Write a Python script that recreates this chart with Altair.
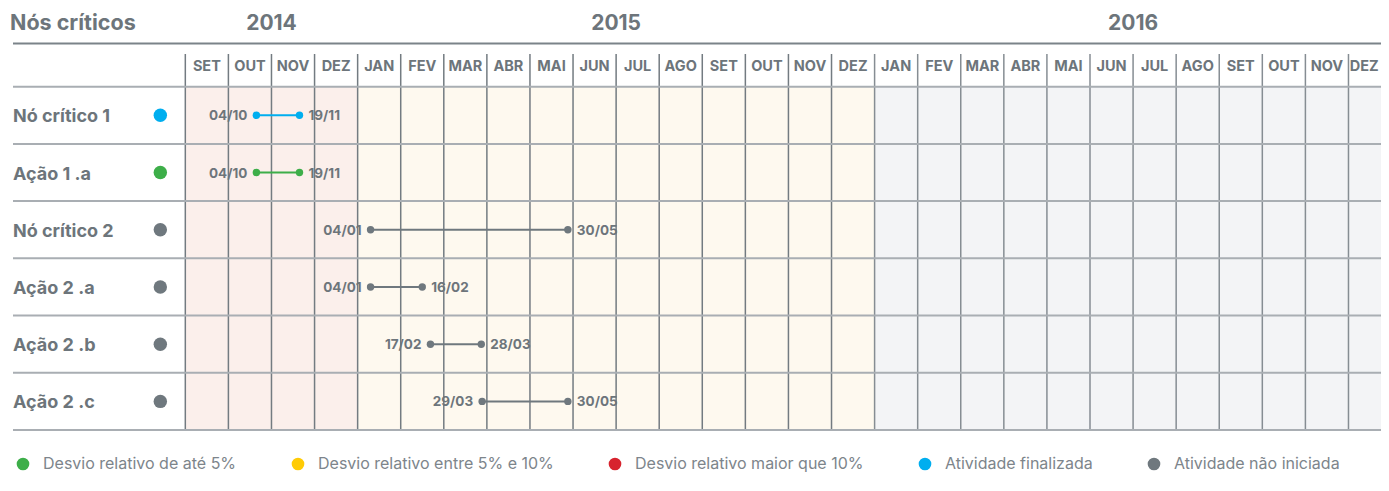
import altair as alt
import pandas as pd

# ---------------- data ----------------
month_labels = ["SET", "OUT", "NOV", "DEZ",
                "JAN", "FEV", "MAR", "ABR", "MAI", "JUN", "JUL", "AGO", "SET", "OUT", "NOV", "DEZ",
                "JAN", "FEV", "MAR", "ABR", "MAI", "JUN", "JUL", "AGO", "SET", "OUT", "NOV", "DEZ"]
month_years = [2014] * 4 + [2015] * 12 + [2016] * 12
years = [2014, 2015, 2016]

tasks = ["Nó crítico 1", "Ação 1 .a", "Nó crítico 2", "Ação 2 .a", "Ação 2 .b", "Ação 2 .c"]
task_status = ["Atividade finalizada", "Desvio relativo de até 5%", "Atividade não iniciada",
               "Atividade não iniciada", "Atividade não iniciada", "Atividade não iniciada"]
# positions in months counted from the start of SET 2014
start_pos = [1.65, 1.65, 4.30, 4.30, 5.69, 6.89]
end_pos = [2.65, 2.65, 8.88, 5.50, 6.87, 8.88]
start_labels = ["04/10", "04/10", "04/01", "04/01", "17/02", "29/03"]
end_labels = ["19/11", "19/11", "30/05", "16/02", "28/03", "30/05"]

status_domain = ["Desvio relativo de até 5%", "Desvio relativo entre 5% e 10%",
                 "Desvio relativo maior que 10%", "Atividade finalizada", "Atividade não iniciada"]
status_colors = ["#3dae49", "#ffcb05", "#d7232e", "#00aeef", "#6f787e"]
year_fill = {2014: "#fbefeb", 2015: "#fef9ef", 2016: "#f3f4f6"}
year_line = {2014: "#737b81", 2015: "#737b81", 2016: "#868d93"}

# ---------------- styling / layout constants ----------------
FONT = "Inter"
TXT = "#6d757b"
LEG_TXT = "#7d858b"
PX_PER_MONTH = 43.08
VIEW_W = 1368
X_MIN = -4.0
X_MAX = X_MIN + VIEW_W / PX_PER_MONTH
N_ROWS = len(tasks)
Y_TOP = -1.375
TITLE_Y = -1.13
TOPLINE_Y = -0.755
MONTH_Y = -0.36
VLINE_TOP = -0.571
LABEL_EDGE = 0.39  # keeps the last month label inside the visible area

xscale = alt.Scale(domain=[X_MIN, X_MAX], nice=False, zero=False)
yscale = alt.Scale(domain=[Y_TOP, N_ROWS], reverse=True, nice=False, zero=False)

# ---------------- tables ----------------
months = pd.DataFrame({
    "m": list(range(len(month_labels))),
    "label": month_labels,
    "year": month_years,
})
months["x0"] = months["m"]
months["x1"] = months["m"] + 1
months["xc"] = (months["m"] + 0.5).clip(upper=X_MAX - LABEL_EDGE)
months["fill"] = months["year"].map(year_fill)
months["line"] = months["year"].map(year_line)
months["y0"] = 0
months["y1"] = N_ROWS
months["vtop"] = VLINE_TOP
months["ym"] = MONTH_Y

yr = pd.DataFrame({"year": years})
yr["center"] = [(months.loc[months.year == y, "m"] + 0.5).mean() for y in years]
yr["label"] = yr["year"].astype(str)
yr["ty"] = TITLE_Y

hl = pd.DataFrame({"r": list(range(N_ROWS + 1))})
hl["xa"] = X_MIN
hl["xb"] = X_MAX

top = pd.DataFrame({"r": [TOPLINE_Y], "xa": [X_MIN], "xb": [X_MAX]})
ttl = pd.DataFrame({"text": ["Nós críticos"], "x": [X_MIN], "y": [TITLE_Y]})

tk = pd.DataFrame({
    "task": tasks, "status": task_status, "start": start_pos, "end": end_pos,
    "slabel": start_labels, "elabel": end_labels,
})
tk["yc"] = [i + 0.5 for i in range(N_ROWS)]
tk["xl"] = X_MIN
tk["xd"] = 0.0

status_scale = alt.Scale(domain=status_domain, range=status_colors)


def X(f):
    return alt.X(f, scale=xscale, axis=None)


def Y(f):
    return alt.Y(f, scale=yscale, axis=None)


# ---------------- layers ----------------
bg = alt.Chart(months).mark_rect(clip=True).encode(
    x=X("x0:Q"), x2="x1:Q", y=Y("y0:Q"), y2="y1:Q",
    fill=alt.Fill("fill:N", scale=None),
)

vlines = alt.Chart(months).mark_rule(strokeWidth=1.5, clip=True).encode(
    x=X("x0:Q"), y=Y("vtop:Q"), y2="y1:Q",
    stroke=alt.Stroke("line:N", scale=None),
)

hlines = alt.Chart(hl).mark_rule(strokeWidth=2, color="#a9aeb3").encode(
    x=X("xa:Q"), x2="xb:Q", y=Y("r:Q"),
)

topline = alt.Chart(top).mark_rule(strokeWidth=2, color="#7b8389").encode(
    x=X("xa:Q"), x2="xb:Q", y=Y("r:Q"),
)

month_txt = alt.Chart(months).mark_text(
    font=FONT, fontSize=14.5, fontWeight="bold", color=TXT, baseline="middle", align="center", dy=1
).encode(x=X("xc:Q"), y=Y("ym:Q"), text="label:N")

year_txt = alt.Chart(yr).mark_text(
    font=FONT, fontSize=21, fontWeight="bold", color=TXT, baseline="middle", align="center", dy=2
).encode(x=X("center:Q"), y=Y("ty:Q"), text="label:N")

title_txt = alt.Chart(ttl).mark_text(
    font=FONT, fontSize=21.5, fontWeight="bold", color=TXT, baseline="middle", align="left",
    dx=-3, dy=2
).encode(x=X("x:Q"), y=Y("y:Q"), text="text:N")

task_txt = alt.Chart(tk).mark_text(
    font=FONT, fontSize=18, fontWeight="bold", color=TXT, baseline="middle", align="left", dy=2
).encode(x=X("xl:Q"), y=Y("yc:Q"), text="task:N")

status_dot = alt.Chart(tk).mark_circle(size=180, opacity=1, xOffset=-25).encode(
    x=X("xd:Q"), y=Y("yc:Q"),
    color=alt.Color("status:N", scale=status_scale, legend=alt.Legend(
        orient="none", legendX=2, legendY=448, direction="horizontal", columns=5,
        title=None, symbolType="circle", symbolSize=160, symbolStrokeWidth=0,
        labelFont=FONT, labelFontSize=16, labelColor=LEG_TXT, labelOffset=12,
        labelLimit=0, columnPadding=53, padding=0,
    )),
)

bar = alt.Chart(tk).mark_rule(strokeWidth=2).encode(
    x=X("start:Q"), x2="end:Q", y=Y("yc:Q"),
    color=alt.Color("status:N", scale=status_scale, legend=None),
)

ends = alt.Chart(tk).transform_fold(["start", "end"], as_=["which", "pos"]).mark_circle(
    size=55, opacity=1
).encode(
    x=X("pos:Q"), y=Y("yc:Q"),
    color=alt.Color("status:N", scale=status_scale, legend=None),
)

slab = alt.Chart(tk).mark_text(
    font=FONT, fontSize=13.5, fontWeight="bold", color=TXT, baseline="middle", align="right",
    dx=-9, dy=1
).encode(x=X("start:Q"), y=Y("yc:Q"), text="slabel:N")

elab = alt.Chart(tk).mark_text(
    font=FONT, fontSize=13.5, fontWeight="bold", color=TXT, baseline="middle", align="left",
    dx=9, dy=1
).encode(x=X("end:Q"), y=Y("yc:Q"), text="elabel:N")

chart = alt.layer(
    bg, vlines, hlines, topline, month_txt, year_txt, title_txt, task_txt,
    status_dot, bar, ends, slab, elab,
).properties(
    width=VIEW_W, height=422,
    autosize=alt.AutoSizeParams(type="none"),
    padding={"left": 5, "top": 0, "right": 0, "bottom": 45},
).configure_view(stroke=None)

chart.save("out.html", embed_options={"renderer": "svg", "actions": False})
